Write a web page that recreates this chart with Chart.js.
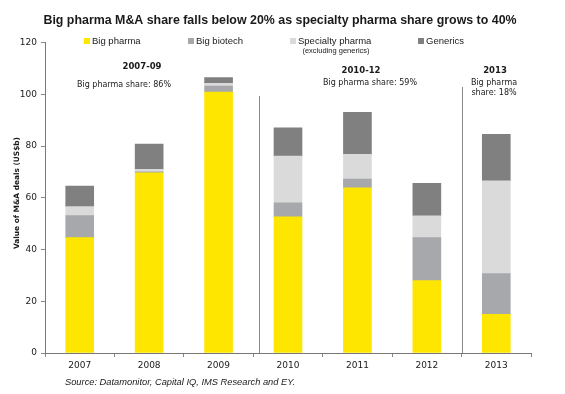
<!DOCTYPE html>
<html>
<head>
<meta charset="utf-8">
<script src="https://cdn.jsdelivr.net/npm/chart.js@4.4.1/dist/chart.umd.min.js"></script>
<style>
  html, body { margin: 0; padding: 0; background: #fff; }
  #wrap { width: 565px; height: 394px; }
</style>
</head>
<body>
<div id="wrap"><canvas id="chart" width="565" height="394"></canvas></div>
<script>
// data (US$b)
const years = ['2007', '2008', '2009', '2010', '2011', '2012', '2013'];
const bigPharma = [44.6, 69.7, 100.9, 52.7, 63.9, 28.0, 15.0];
const bigBiotech = [8.5, 0.4, 2.3, 5.4, 3.4, 16.6, 15.7];
const specialtyPharma = [3.5, 0.9, 1.1, 18.1, 9.5, 8.4, 35.9];
const generics = [8.0, 9.8, 2.2, 10.9, 16.3, 12.6, 18.0];
const yTicks = [0, 20, 40, 60, 80, 100, 120];

const titleText = 'Big pharma M&A share falls below 20% as specialty pharma share grows to 40%';
const yTitle = 'Value of M&A deals (US$b)';
const sourceText = 'Source: Datamonitor, Capital IQ, IMS Research and EY.';
const periodNames = ['2007-09', '2010-12', '2013'];
const periodShares = [['Big pharma share: 86%'], ['Big pharma share: 59%'], ['Big pharma', 'share: 18%']];

const colors = ['#FFE600', '#A6A8AB', '#DADADA', '#808080'];
const textColor = '#1a1a1a';

const decor = {
    id: 'decor',
    afterDraw(chart) {
        const c = chart.ctx;
        const x = chart.scales.x;
        const y = chart.scales.y;
        c.save();
        c.fillStyle = textColor;
        c.textBaseline = 'middle';

        // title
        c.textAlign = 'center';
        c.font = 'bold 12.4px "Liberation Sans", Arial, sans-serif';
        c.fillText(titleText, 280, 21);

        // legend
        const legX = [84, 188, 290, 418];
        c.textAlign = 'left';
        c.font = '9.5px "Liberation Sans", Arial, sans-serif';
        chart.data.datasets.forEach((ds, i) => {
            c.fillStyle = ds.backgroundColor;
            c.fillRect(legX[i], 38, 6, 6);
            c.fillStyle = textColor;
            c.fillText(ds.label, legX[i] + 8, 41);
        });
        c.textAlign = 'center';
        c.font = '7.5px "Liberation Sans", Arial, sans-serif';
        c.fillText('(excluding generics)', 336, 51);

        // period separators
        c.strokeStyle = '#8a8a8a';
        c.lineWidth = 1;
        [[2.58, 99.4], [5.5, 102.9]].forEach(([v, top]) => {
            const px = Math.round(x.getPixelForValue(v)) + 0.5;
            c.beginPath();
            c.moveTo(px, y.getPixelForValue(top));
            c.lineTo(px, y.getPixelForValue(0));
            c.stroke();
        });

        // period notes
        const nameX = [142, 361, 495];
        const shareX = [124, 370, 494];
        periodNames.forEach((name, i) => {
            c.font = 'bold 8.5px "DejaVu Sans", Verdana, sans-serif';
            c.fillText(name, nameX[i], i === 0 ? 67 : 71);
            c.font = '8px "DejaVu Sans", Verdana, sans-serif';
            periodShares[i].forEach((line, j) => {
                c.fillText(line, shareX[i], (i === 0 ? 85 : 83) + j * 10);
            });
        });

        // y axis title
        c.save();
        c.translate(17, 193);
        c.rotate(-Math.PI / 2);
        c.font = 'bold 7.4px "DejaVu Sans", Verdana, sans-serif';
        c.fillText(yTitle, 0, 0);
        c.restore();

        // source
        c.textAlign = 'left';
        c.font = 'italic 9.3px "Liberation Sans", Arial, sans-serif';
        c.fillText(sourceText, 65, 382);
        c.restore();
    }
};

const ctx = document.getElementById('chart');
new Chart(ctx, {
    type: 'bar',
    data: {
        labels: years,
        datasets: [
            { label: 'Big pharma', data: bigPharma, backgroundColor: colors[0] },
            { label: 'Big biotech', data: bigBiotech, backgroundColor: colors[1] },
            { label: 'Specialty pharma', data: specialtyPharma, backgroundColor: colors[2] },
            { label: 'Generics', data: generics, backgroundColor: colors[3] }
        ]
    },
    options: {
        responsive: false,
        animation: false,
        layout: { padding: { top: 42.7, right: 34, left: 0, bottom: 0 } },
        datasets: { bar: { barThickness: 28, borderWidth: 0 } },
        plugins: { legend: { display: false }, tooltip: { enabled: false } },
        scales: {
            x: {
                stacked: true,
                grid: { drawOnChartArea: false, offset: true, tickLength: 4, color: '#888' },
                border: { color: '#777', width: 1 },
                ticks: { font: { family: 'DejaVu Sans', size: 9 }, color: textColor, padding: 3 },
                afterFit(s) { s.height = 41; }
            },
            y: {
                stacked: true,
                min: 0,
                max: 120,
                afterBuildTicks(s) { s.ticks = yTicks.map(v => ({ value: v })); },
                grid: { drawOnChartArea: false, tickLength: 4, color: '#888' },
                border: { color: '#777', width: 1 },
                ticks: { font: { family: 'DejaVu Sans', size: 9 }, color: textColor, padding: 4 },
                afterFit(s) { s.width = 45; }
            }
        }
    },
    plugins: [decor]
});
</script>
</body>
</html>
